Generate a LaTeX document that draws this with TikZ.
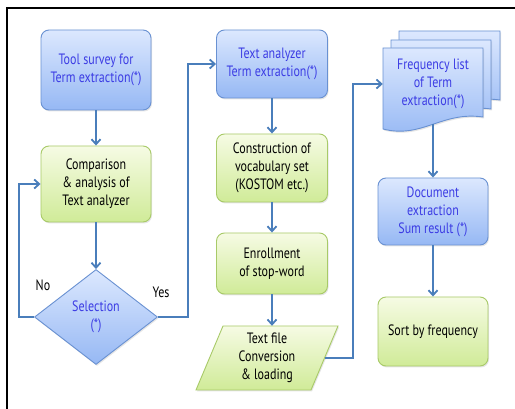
\documentclass[tikz,border=0pt]{standalone}
\usepackage{fontspec}
\setmainfont{PT Sans}[FakeStretch=0.8]
\usetikzlibrary{arrows.meta,shapes.geometric,shadows}
\definecolor{bluetop}{RGB}{220,232,254}
\definecolor{bluebot}{RGB}{150,184,244}
\definecolor{blueline}{RGB}{105,145,210}
\definecolor{bluetext}{RGB}{60,60,228}
\definecolor{greentop}{RGB}{246,251,228}
\definecolor{greenbot}{RGB}{208,235,152}
\definecolor{greenline}{RGB}{168,202,104}
\definecolor{arrowblue}{RGB}{74,126,187}
\tikzset{
  base/.style={align=center, font=\fontsize{15}{18}\selectfont, inner sep=0pt,
    drop shadow={opacity=0.2, shadow xshift=1pt, shadow yshift=-1.5pt}},
  bluebox/.style={base, rounded corners=8pt, draw=blueline, line width=0.9pt,
    top color=bluetop, bottom color=bluebot, text=bluetext},
  greenbox/.style={base, rounded corners=8pt, draw=greenline, line width=0.9pt,
    top color=greentop, bottom color=greenbot, text=black},
  bluefill/.style={draw=blueline, line width=0.9pt, top color=bluetop, bottom color=bluebot,
    drop shadow={opacity=0.2, shadow xshift=1pt, shadow yshift=-1.5pt}},
  greenfill/.style={draw=greenline, line width=0.9pt, top color=greentop, bottom color=greenbot,
    drop shadow={opacity=0.2, shadow xshift=1pt, shadow yshift=-1.5pt}},
  plain/.style={align=center, font=\fontsize{15}{18}\selectfont, inner sep=0pt},
  conn/.style={draw=arrowblue, line width=1.8pt, -{Straight Barb[length=5pt,width=9pt,line width=1.8pt]}},
}
\begin{document}
\begin{tikzpicture}[x=1pt,y=-1pt]
\useasboundingbox (0,0) rectangle (515,409);
\fill[white] (0,0) rectangle (515,409);
% frame
\draw[black, line width=1.5pt] (7,409) -- (7,8) -- (515,8);

% column 1
\node[bluebox, minimum width=110pt, minimum height=80pt] (n1) at (96,70) {Tool survey for\\Term extraction(*)};
\node[greenbox, minimum width=110pt, minimum height=76pt] (n2) at (96,184) {Comparison\\\& analysis of\\Text analyzer};
\node[diamond, bluefill, plain, text=bluetext, minimum width=123pt, minimum height=95pt] (dia) at (96,317) {Selection\\(*)};
\node[plain] (no) at (43,285) {No};
\node[plain] (yes) at (161,292) {Yes};

% column 2
\node[bluebox, minimum width=111pt, minimum height=68pt] (n3) at (272,64) {Text analyzer\\Term extraction(*)};
\node[greenbox, minimum width=111pt, minimum height=68pt] (n4) at (272,168) {Construction of\\vocabulary set\\(KOSTOM etc.)};
\node[greenbox, minimum width=111pt, minimum height=61pt] (n5) at (272,263.5) {Enrollment\\of stop-word};
\path[greenfill] (223,326) -- (338,326) -- (311,390) -- (196,390) -- cycle;
\node[plain, minimum width=115pt, minimum height=64pt] (n6) at (267,358) {Text file\\Conversion\\\& loading};

% column 3: document stack
\path[bluefill] (399,31) -- (500,31) -- (500,100) .. controls (458,94) and (438,122) .. (399,112) -- cycle;
\path[bluefill] (391,40) -- (491,40) -- (491,109) .. controls (450,103) and (430,131) .. (391,121) -- cycle;
\path[bluefill] (383,48) -- (483,48) -- (483,117) .. controls (442,111) and (422,139) .. (383,129) -- cycle;
\node[plain, text=bluetext, minimum width=100pt, minimum height=75pt] (freq) at (433,84) {Frequency list\\of Term\\extraction(*)};
\node[bluebox, minimum width=110pt, minimum height=67pt] (n7) at (433,211.5) {Document\\extraction\\Sum result (*)};
\node[greenbox, minimum width=110pt, minimum height=69pt] (n8) at (433,331.5) {Sort by frequency};

% connectors
\draw[conn] (n1) -- (n2);
\draw[conn] (n2) -- (dia);
\draw[conn] (dia.west) -- ++(-15,0) |- (n2.west);
\draw[conn] (dia.east) -- (188,317) |- (n3.west);
\draw[conn] (n3) -- (n4);
\draw[conn] (n4) -- (n5);
\draw[conn] (n5) -- (n5 |- n6.north);
\draw[conn] (n6.east) -- (353,358) |- (freq.west);
\draw[conn] (freq.south) ++(0,2) -- (n7.north);
\draw[conn] (n7) -- (n8);
\end{tikzpicture}
\end{document}
